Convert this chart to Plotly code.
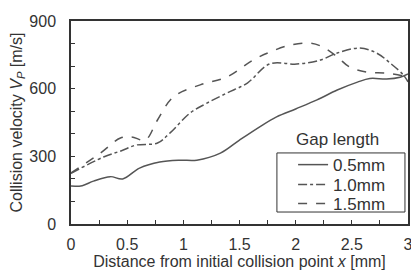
import plotly.graph_objects as go

x_05 = [0.0, 0.1, 0.2, 0.35, 0.46, 0.61, 0.79, 0.97, 1.12, 1.33, 1.5, 1.68, 1.83, 2.0, 2.19, 2.37, 2.55, 2.66, 2.81, 2.93, 3.0]
y_05 = [168, 170, 190, 210, 200, 248, 275, 283, 283, 314, 372, 431, 475, 510, 550, 594, 629, 645, 643, 651, 665]

x_10 = [0.0, 0.29, 0.45, 0.58, 0.77, 0.88, 1.06, 1.21, 1.39, 1.57, 1.77, 2.01, 2.22, 2.37, 2.57, 2.72, 2.84, 2.96, 3.0]
y_10 = [225, 297, 325, 350, 359, 403, 492, 536, 581, 625, 710, 709, 727, 758, 780, 758, 714, 660, 630]

x_15 = [0.0, 0.26, 0.44, 0.54, 0.66, 0.77, 0.91, 1.15, 1.39, 1.62, 1.77, 1.95, 2.13, 2.24, 2.37, 2.48, 2.63, 2.81, 2.96, 3.0]
y_15 = [226, 314, 381, 386, 372, 461, 563, 617, 652, 727, 762, 793, 802, 785, 741, 696, 674, 669, 656, 650]

names = ["0.5mm", "1.0mm", "1.5mm"]
dashes = ["solid", "dashdot", "dash"]
legend_ids = ["legend", "legend2", "legend3"]
legend_tops = [0.379, 0.281, 0.187]

fig = go.Figure()
for xs, ys, nm, ds, lg in zip([x_05, x_10, x_15], [y_05, y_10, y_15], names, dashes, legend_ids):
    fig.add_trace(go.Scatter(x=xs, y=ys, name=nm, mode="lines", legend=lg,
                             line=dict(color="#555555", width=1.5, dash=ds, shape="spline", smoothing=1.0)))

axis_common = dict(showline=True, mirror=True, linecolor="#333333", linewidth=1.5,
                   ticks="inside", ticklen=4, tickcolor="#333333", showgrid=False, zeroline=False,
                   automargin=False, ticklabeloverflow="allow",
                   tickfont=dict(family="Liberation Sans, Arial", size=16, color="#333333"))

legend_style = dict(x=0.659, xanchor="left", yanchor="top", borderwidth=0,
                    bgcolor="rgba(0,0,0,0)", font=dict(size=17, color="#333333"), itemwidth=30)

fig.update_layout(
    width=411, height=273,
    margin=dict(l=71, r=3, t=21, b=49),
    paper_bgcolor="white", plot_bgcolor="white",
    font=dict(family="Liberation Sans, Arial", color="#333333"),
    xaxis=dict(range=[0, 3], tickvals=[0, 0.5, 1, 1.5, 2, 2.5, 3],
               ticktext=["0", "0.5", "1", "1.5", "2", "2.5", "3"],
               minor=dict(dtick=0.25, ticks="inside", ticklen=4, tickcolor="#333333"),
               ticklabelstandoff=5,
               title=dict(text="Distance from initial collision point <i>x</i> [mm]", font=dict(size=16), standoff=2),
               **axis_common),
    yaxis=dict(range=[0, 900], tickvals=[0, 300, 600, 900],
               minor=dict(dtick=100, ticks="inside", ticklen=4, tickcolor="#333333"),
               ticklabelstandoff=10,
               title=dict(text="Collision velocity <i>V</i><sub><i>P</i></sub> [m/s]", font=dict(size=16), standoff=3),
               **axis_common),
    legend=dict(y=legend_tops[0], **legend_style),
    legend2=dict(y=legend_tops[1], **legend_style),
    legend3=dict(y=legend_tops[2], **legend_style),
    showlegend=True,
)
fig.add_shape(type="rect", xref="paper", yref="paper", x0=0.611, x1=0.991, y0=0.059, y1=0.35,
              line=dict(color="#333333", width=1), fillcolor="white", layer="above")
fig.add_annotation(text="Gap length", xref="paper", yref="paper", x=0.79, y=0.36,
                   xanchor="center", yanchor="bottom", showarrow=False,
                   font=dict(size=17, color="#333333"))

fig.write_html("out.html", config={"displayModeBar": False},
               post_script="document.body.style.margin='0';document.body.style.padding='0';")
